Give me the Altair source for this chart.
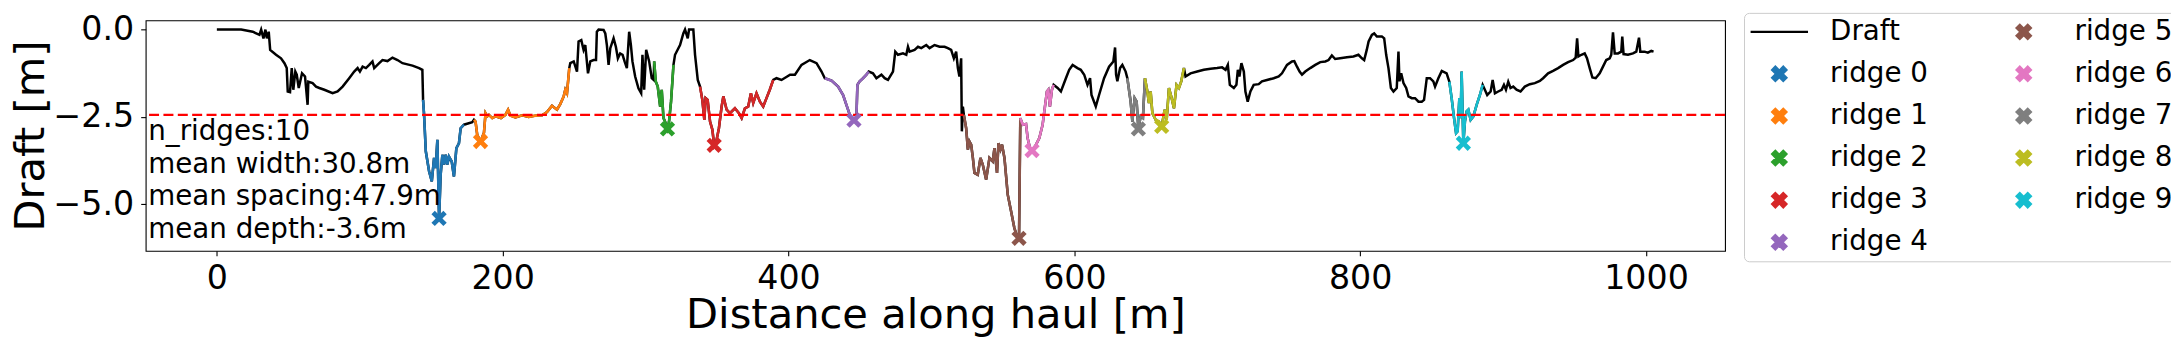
import altair as alt
import pandas as pd

FONT = "DejaVu Sans"

# ---- data ----
dist = [
    0.0, 17.0, 25.1, 29.8, 31.0, 32.6, 34.0, 35.0, 36.3, 37.3, 41.4, 44.9, 47.3, 48.9,
    49.6, 51.2, 52.4, 53.5, 54.9, 55.9, 57.3, 59.6, 61.7, 63.5, 64.0, 67.0, 69.4, 71.7,
    75.2, 81.0, 84.5, 88.0, 92.6, 96.1, 98.5, 100.1, 102.0, 104.3, 106.6, 108.9, 110.1,
    113.6, 115.9, 119.4, 122.9, 126.4, 129.9, 136.9, 141.5, 143.8,
    144.3, 145.0, 146.2, 148.5, 150.4, 152.0, 153.1, 154.3, 155.5, 156.6, 157.8, 159.0,
    160.1, 161.3, 162.4, 164.3, 165.9, 167.6, 169.4, 170.6, 172.9,
    178.7,
    179.9, 181.0, 182.2, 184.5, 186.9, 188.0, 189.2, 190.4, 192.7, 195.0, 198.8, 201.9,
    203.8, 205.4, 208.9, 213.6, 218.2, 222.9, 227.6, 231.0, 234.5, 238.0, 240.3, 242.7,
    243.8, 245.0, 246.6,
    247.3, 249.7, 252.0, 253.1, 255.0, 256.6, 257.8, 259.7, 261.3, 263.6, 265.3, 265.9,
    267.1, 270.6, 271.8, 272.9, 274.1, 275.3, 277.6, 279.2, 280.6, 282.2, 283.9, 285.3,
    286.9, 288.5, 289.7, 290.8, 292.7, 295.0, 296.9, 297.8, 299.0, 300.4, 302.5, 304.3,
    305.7,
    306.0, 307.1, 308.5, 310.2, 311.3, 312.5, 313.6, 315.3, 316.4, 317.8, 319.5,
    320.6, 324.1, 326.4, 327.6, 329.5, 330.4, 333.4, 334.6, 336.5,
    338.1, 339.7, 341.1, 342.0, 343.4, 345.1, 346.7, 348.0, 349.7, 351.3, 353.2, 354.4,
    356.7, 359.0, 362.5, 365.3, 367.2, 369.5, 371.8, 373.7, 375.3, 377.6, 380.0, 382.3,
    384.6, 386.9, 389.3,
    391.6, 395.1, 401.1, 404.5, 409.1, 414.9, 419.6, 423.1,
    425.4, 430.1, 434.7, 438.2, 440.5, 442.9, 445.8, 447.5, 448.2, 449.8, 452.2, 454.5,
    456.1,
    459.1, 461.5, 465.0, 467.3, 469.6, 473.1, 474.7, 476.6, 480.1, 482.4, 483.6, 484.7,
    488.2, 490.6, 492.9, 496.4, 498.7, 502.2, 505.7, 509.2, 511.5, 513.8, 515.7, 517.3,
    518.5, 519.6, 520.8, 521.3, 522.0,
    522.7, 524.3, 525.5, 526.6, 527.8, 529.0, 530.1, 532.4, 534.3, 535.9, 538.3, 540.6,
    542.9, 544.1, 545.9, 546.9, 548.3, 549.4, 551.1, 553.4, 555.7, 558.0, 559.9, 561.3,
    562.2,
    563.9, 566.2, 567.3, 569.2, 570.4, 573.2, 575.5, 577.8, 579.0, 580.8, 581.8, 582.9,
    584.3, 585.5,
    588.3, 590.6, 594.1, 596.4, 598.8, 602.2, 604.5, 606.9, 609.2, 611.0, 612.0, 615.0,
    617.3, 620.8, 624.3, 627.3, 628.5, 629.2, 630.1, 632.0, 633.6, 635.9,
    637.1, 639.4, 640.6, 642.2, 643.6, 644.8, 646.4, 648.0,
    649.4, 651.1, 652.2, 653.4, 654.6, 656.9, 659.2, 661.1, 663.2, 664.6, 666.2, 668.1,
    669.7, 671.5, 673.2, 674.8, 676.7,
    677.8, 681.3, 686.0, 690.6, 695.3, 699.9, 703.4, 705.8, 707.4, 708.8, 711.6, 713.4,
    714.4, 715.5, 716.9, 718.6, 719.7, 721.3, 723.2, 725.5, 729.0, 731.3, 734.8, 739.5,
    743.0, 745.3, 748.8, 752.3, 753.9, 755.8, 757.6, 759.3, 761.6, 765.1, 768.6, 772.1,
    775.6, 777.9, 780.2, 782.5, 786.0, 790.7, 795.3, 798.8, 801.2, 802.8, 804.6, 805.9,
    808.2, 809.8, 811.7, 815.2, 816.8, 818.2, 819.8, 821.5, 823.3, 825.6, 826.8, 827.5,
    828.7, 830.3, 832.2, 833.8, 836.1, 838.4, 840.8, 843.1, 844.7, 846.6, 848.9, 851.2,
    852.4, 854.7, 857.1, 860.5,
    862.4, 864.0, 865.7, 867.1, 868.2, 869.4, 870.3, 871.0, 872.2, 873.3, 874.5, 875.7,
    877.3, 879.2, 881.5, 883.8, 885.7,
    888.9, 891.3, 892.7, 894.3, 896.6, 899.0, 900.6, 902.0, 903.6, 905.2, 907.1, 909.4,
    912.2, 915.2, 918.7, 922.2, 925.7, 928.0, 931.5, 935.0, 938.5, 942.0, 945.5, 949.0,
    950.8, 951.8, 952.7, 954.8, 957.1, 958.7, 960.6, 962.5, 964.8, 967.6, 969.9, 972.2,
    974.6, 975.7, 976.9, 978.1, 980.4, 982.7, 983.4, 984.3, 987.4, 990.9, 993.2, 995.1,
    996.0, 999.0, 1001.3, 1003.7, 1005.3,
]

draft = [
    0.0, 0.0, -0.06, -0.15, 0.0, -0.25, 0.0, -0.25, -0.06, -0.58, -0.72, -0.82, -0.96, -1.10,
    -1.77, -1.79, -1.10, -1.72, -1.20, -1.29, -1.67, -1.25, -1.34, -2.15, -1.49, -1.53, -1.63, -1.67,
    -1.72, -1.82, -1.77, -1.63, -1.39, -1.20, -1.10, -1.20, -1.06, -1.10, -1.01, -0.91, -1.10,
    -0.96, -0.87, -0.90, -0.80, -0.87, -0.96, -1.03, -1.10, -1.15,
    -2.01, -2.44, -3.48, -4.05, -4.34, -3.67, -3.96, -3.15, -5.40, -4.15, -3.58, -3.86,
    -3.58, -3.86, -3.63, -3.77, -4.20, -3.39, -3.25, -2.82, -2.72,
    -2.65,
    -2.58, -2.63, -3.01, -3.20, -2.95, -2.39, -2.48, -2.44, -2.53, -2.48, -2.53, -2.44,
    -2.29, -2.46, -2.51, -2.45, -2.50, -2.46, -2.45, -2.36, -2.18, -2.29, -2.13, -1.91,
    -1.72, -1.82, -1.10,
    -0.96, -0.91, -1.20, -0.34, -0.30, -0.58, -0.44, -1.25, -0.91, -0.87, -0.87, -0.06,
    0.0, -0.01, -0.11, -0.44, -1.01, -0.53, -0.25, -0.49, -0.82, -0.68, -0.72, -0.91,
    -1.10, -0.06, -0.44, -0.91, -1.34, -1.68, -1.82, -0.72, -1.72, -0.58, -0.91, -1.39,
    -1.44,
    -0.91, -1.48, -1.63, -2.20, -1.72, -2.53, -2.63, -2.84, -2.63, -2.06, -1.01,
    -0.72, -0.44, -0.11, 0.0, -0.25, 0.0, 0.0, -0.72, -1.44,
    -1.63, -2.01, -2.58, -1.96, -2.01, -2.63, -2.86, -3.31, -3.15, -2.82, -2.20, -1.91,
    -2.29, -2.39, -2.25, -2.39, -2.53, -2.25, -2.20, -1.82, -2.10, -1.82, -2.06, -2.20,
    -1.96, -1.72, -1.44,
    -1.39, -1.44, -1.29, -1.29, -1.01, -0.87, -0.96, -1.20,
    -1.39, -1.46, -1.63, -1.87, -2.15, -2.44, -2.59, -2.53, -1.58, -1.48, -1.39, -1.29,
    -1.20,
    -1.25, -1.39, -1.29, -1.39, -1.44, -1.20, -0.63, -0.72, -0.68, -0.72, -0.49, -0.63,
    -0.58, -0.49, -0.53, -0.44, -0.53, -0.44, -0.49, -0.49, -0.53, -0.58, -0.82, -0.63,
    -1.10, -1.34, -0.82, -2.91, -2.20,
    -2.44, -2.82, -3.43, -3.20, -3.29, -3.67, -4.10, -4.15, -3.67, -3.86, -4.29, -3.67,
    -3.77, -3.39, -4.10, -3.25, -3.43, -3.29, -3.67, -4.72, -5.19, -5.67, -5.91, -5.97,
    -2.53,
    -2.72, -2.70, -3.10, -3.43, -3.46, -3.29, -3.10, -2.72, -2.34, -1.77, -1.72, -2.20,
    -1.72, -1.58,
    -1.67, -1.77, -1.39, -1.15, -1.01, -1.10, -1.15, -1.29, -1.58, -1.39, -1.87, -2.20,
    -1.87, -1.39, -1.06, -0.91, -0.51, -1.29, -1.48, -1.10, -1.01, -1.20,
    -1.39, -2.06, -2.63, -1.96, -2.06, -2.84, -2.48, -2.53,
    -1.39, -1.77, -2.10, -1.77, -2.39, -2.58, -2.63, -2.77, -2.29, -2.58, -1.67, -1.96,
    -2.25, -1.58, -1.67, -1.48, -1.10,
    -1.34, -1.25, -1.20, -1.15, -1.12, -1.10, -1.08, -1.15, -1.01, -1.58, -1.67, -1.58,
    -1.15, -1.34, -0.96, -1.20, -1.77, -2.06, -1.77, -1.58, -1.56, -1.48, -1.44, -1.39,
    -1.34, -1.25, -1.01, -0.91, -0.90, -1.06, -1.20, -1.29, -1.20, -1.10, -1.01, -0.93,
    -0.91, -0.87, -0.74, -0.84, -0.82, -0.79, -0.77, -0.72, -0.82, -0.87, -0.58, -0.34,
    -0.15, -0.11, -0.20, -0.20, -0.25, -0.72, -1.10, -1.67, -1.77, -1.67, -0.63, -1.48,
    -1.25, -1.53, -1.67, -1.91, -1.96, -1.96, -2.06, -2.06, -2.01, -1.39, -1.39, -1.48,
    -1.63, -1.39, -1.18, -1.25,
    -1.49, -1.96, -2.53, -2.96, -2.91, -1.96, -2.53, -1.20, -3.25, -2.63, -2.34, -2.29,
    -2.58, -2.48, -2.15, -1.87, -1.58,
    -1.87, -1.77, -1.44, -1.82, -1.77, -1.72, -1.58, -1.72, -1.49, -1.67, -1.63, -1.72,
    -1.77, -1.63, -1.56, -1.53, -1.47, -1.39, -1.25, -1.18, -1.10, -1.01, -0.93, -0.87,
    -0.80, -0.25, -0.77, -0.72, -0.68, -0.82, -1.10, -1.37, -1.39, -1.25, -1.06, -0.87,
    -0.82, -0.72, -0.08, -0.68, -0.68, -0.63, -0.20, -0.70, -0.72, -0.68, -0.63, -0.23,
    -0.63, -0.63, -0.66, -0.61, -0.63,
]

ridge_names = [f"ridge {i}" for i in range(10)]
ridge_start = [144.3, 179.9, 306.0, 338.1, 425.4, 522.7, 562.2, 637.1, 649.4, 862.4]
ridge_end = [172.9, 246.6, 319.5, 389.3, 456.1, 562.2, 585.5, 649.4, 676.7, 885.7]
ridge_colors = ["#1f77b4", "#ff7f0e", "#2ca02c", "#d62728", "#9467bd",
                "#8c564b", "#e377c2", "#7f7f7f", "#bcbd22", "#17becf"]
threshold = -2.44
stats_text = "n_ridges:10\nmean width:30.8m\nmean spacing:47.9m\nmean depth:-3.6m"
x_ticks = [0, 200, 400, 600, 800, 1000]
y_ticks = [0.0, -2.5, -5.0]

# filled "X" marker outline (unit square) and a short horizontal stroke for the legend
X_SHAPE = "M0,-0.44L0.56,-1L1,-0.56L0.44,0L1,0.56L0.56,1L0,0.44L-0.56,1L-1,0.56L-0.44,0L-1,-0.56L-0.56,-1Z"
LINE_SHAPE = "M-4.07,0L4.07,0"

# ---- tables ----
profile = pd.DataFrame({"dist": dist, "draft": draft})
profile["order"] = range(len(profile))
profile["series"] = "Draft"

segs, marks = [], []
for name, s, e in zip(ridge_names, ridge_start, ridge_end):
    seg = profile[(profile["dist"] >= s) & (profile["dist"] <= e)].copy()
    seg["series"] = name
    segs.append(seg)
    marks.append(seg.loc[seg["draft"].idxmin()])
ridges = pd.concat(segs, ignore_index=True)
markers = pd.DataFrame(marks).reset_index(drop=True)

thr_df = pd.DataFrame({"draft": [threshold]})
text_df = pd.DataFrame({"dist": [-48.0], "draft": [-3.159], "t": [stats_text]})

# ---- encodings ----
legend = alt.Legend(
    title=None, orient="none", legendX=1602, legendY=-7.5,
    columns=2, columnPadding=65, rowPadding=13.2,
    symbolOffset=16.5, labelOffset=37,
    labelFont=FONT, labelFontSize=27.8, labelColor="black",
    symbolSize=200, symbolStrokeWidth=2.4, symbolOpacity=1,
    symbolType=alt.ExprRef(expr=f"datum.value === 'Draft' ? '{LINE_SHAPE}' : '{X_SHAPE}'"),
    symbolFillColor=alt.ExprRef(expr="scale('color', datum.value)"),
    symbolStrokeColor=alt.ExprRef(expr="datum.value === 'Draft' ? '#000000' : 'transparent'"),
    padding=5, strokeColor="#cccccc", fillColor="white", cornerRadius=5,
)

color = alt.Color(
    "series:N",
    scale=alt.Scale(domain=["Draft"] + ridge_names, range=["#000000"] + ridge_colors),
    legend=legend,
)

xenc = alt.X(
    "dist:Q",
    scale=alt.Scale(domain=[-49.8, 1055.3], nice=False, zero=False),
    axis=alt.Axis(values=x_ticks, format="d", title="Distance along haul [m]",
                  labelFontSize=33.3, titleFontSize=41.7, labelPadding=6.5, titlePadding=0),
)
yenc = alt.Y(
    "draft:Q",
    scale=alt.Scale(domain=[-6.327, 0.265], nice=False, zero=False),
    axis=alt.Axis(values=y_ticks, format=".1f", title="Draft [m]",
                  labelFontSize=33.3, titleFontSize=41.7, labelPadding=7, titlePadding=1),
)

draft_line = alt.Chart(profile).mark_line(strokeWidth=2.5).encode(
    x=xenc, y=yenc, color=color, order="order:Q")
ridge_lines = alt.Chart(ridges).mark_line(strokeWidth=2.6).encode(
    x="dist:Q", y="draft:Q", color=color, detail="series:N", order="order:Q")
thr_rule = alt.Chart(thr_df).mark_rule(
    color="#ff0000", strokeWidth=2.4, strokeDash=[10, 4.4]).encode(y="draft:Q")
marker_pts = alt.Chart(markers).mark_point(
    shape=X_SHAPE, filled=True, size=235, opacity=1, strokeWidth=0).encode(
    x="dist:Q", y="draft:Q", color=color)
stats = alt.Chart(text_df).mark_text(
    align="left", baseline="alphabetic", fontSize=27.8, font=FONT,
    lineHeight=32.8, lineBreak="\n", color="black").encode(
    x="dist:Q", y="draft:Q", text="t:N")

chart = alt.layer(draft_line, ridge_lines, thr_rule, marker_pts, stats).properties(
    width=1583, height=231,
    autosize=alt.AutoSizeParams(type="none"),
    padding={"left": 138, "top": 12, "right": 447, "bottom": 87},
).configure_view(
    stroke="black", strokeWidth=1.1,
).configure_axis(
    labelFont=FONT, titleFont=FONT, labelColor="black", titleColor="black",
    tickColor="black", tickSize=5, tickWidth=1.1, domain=False, grid=False,
    titleFontWeight="normal",
)

chart.save("out.html", embed_options={"renderer": "svg", "actions": False})
